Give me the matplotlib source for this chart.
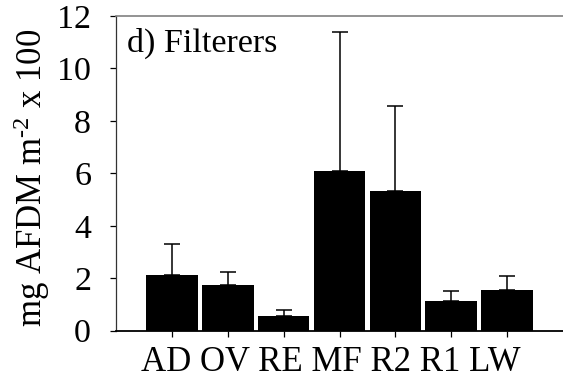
import matplotlib
matplotlib.use("Agg")
import matplotlib.pyplot as plt
import numpy as np

categories = ["AD", "OV", "RE", "MF", "R2", "R1", "LW"]
means = [2.13, 1.76, 0.57, 6.08, 5.32, 1.15, 1.54]
errors = [1.18, 0.47, 0.22, 5.32, 3.24, 0.38, 0.55]
yticks = [0, 2, 4, 6, 8, 10, 12]
panel_title = "d) Filterers"
ylabel = r"mg AFDM m$^{\text{-2}}$ x 100"

plt.rcParams["font.family"] = ["Liberation Serif", "DejaVu Serif"]
plt.rcParams["mathtext.fontset"] = "custom"
plt.rcParams["mathtext.rm"] = "Liberation Serif"
plt.rcParams["mathtext.it"] = "Liberation Serif:italic"

fig = plt.figure(figsize=(5.63, 3.83), dpi=100)
W, H = 563, 383
left, right, top, bottom = 116, 563, 16, 330.7
ax = fig.add_axes([left / W, (H - bottom) / H, (right - left) / W, (bottom - top) / H])

x = np.arange(len(categories))
ax.bar(x, means, width=0.925, color="black", edgecolor="none", zorder=2)
ax.errorbar(x, means, yerr=[np.zeros(len(errors)), errors], fmt="none",
            ecolor="black", elinewidth=1.1, capsize=5.5, capthick=1.1, zorder=3)

ax.set_xlim(-1.0, 7.0)
ax.set_ylim(0, 12)
ax.set_yticks(yticks)
ax.set_yticklabels([str(v) for v in yticks])
ax.set_xticks(x)
ax.set_xticklabels([""] * len(categories))

ax.tick_params(axis="y", direction="out", length=4, width=0.9, pad=14, labelsize=24.5)
ax.tick_params(axis="x", direction="out", length=4, width=0.9)

ax.spines["right"].set_visible(False)
ax.spines["top"].set_color("#808080")
ax.spines["top"].set_linewidth(1.2)
ax.spines["left"].set_color("#333333")
ax.spines["left"].set_linewidth(0.9)
ax.spines["bottom"].set_color("black")
ax.spines["bottom"].set_linewidth(1.3)

ax.text(0.025, 0.886, panel_title, transform=ax.transAxes, fontsize=24.5,
        va="baseline", ha="left")

ax.set_xlabel(" ".join(categories), fontsize=25)
ax.xaxis.label.set_verticalalignment("top")
ax.xaxis.set_label_coords((330.8 - left) / (right - left), -(346 - bottom) / (bottom - top))

ax.set_ylabel(ylabel, fontsize=25)
ax.yaxis.label.set_verticalalignment("center")
ax.yaxis.set_label_coords(-(left - 32) / (right - left), (bottom - 177.5) / (bottom - top))

fig.savefig("out.png", dpi=100)
